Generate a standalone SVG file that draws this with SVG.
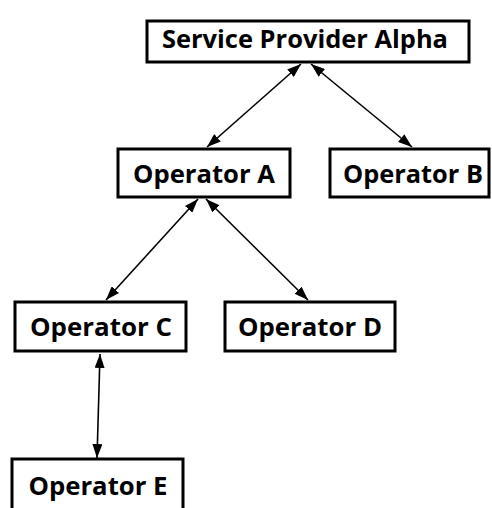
<svg xmlns="http://www.w3.org/2000/svg" width="492" height="508" viewBox="0 0 492 508">
<style>
.box{fill:#fff;stroke:#000;stroke-width:3}
.lbl{font-family:"Open Sans","Noto Sans","Liberation Sans",sans-serif;font-weight:bold;font-size:25.5px;fill:#000;text-anchor:middle}
.conn{stroke:#000;stroke-width:1.6;fill:none;marker-start:url(#ah);marker-end:url(#ah)}
</style>
<defs>
<marker id="ah" viewBox="0 0 14 10" refX="14" refY="5" markerWidth="14" markerHeight="10" markerUnits="userSpaceOnUse" orient="auto-start-reverse">
<path d="M0,0 L14,5 L0,10 z" fill="#000"/>
</marker>
</defs>
<rect width="492" height="508" fill="#fff"/>
<g id="connectors">
<line class="conn" x1="301" y1="64" x2="207" y2="147"/>
<line class="conn" x1="311" y1="64" x2="412" y2="147"/>
<line class="conn" x1="198" y1="199" x2="106" y2="300"/>
<line class="conn" x1="206" y1="199" x2="308" y2="300"/>
<line class="conn" x1="100" y1="354" x2="97" y2="458"/>
</g>
<g id="spa">
<rect class="box" x="147" y="21" width="322" height="41"/>
<text class="lbl" x="305" y="48" textLength="286" lengthAdjust="spacingAndGlyphs">Service Provider Alpha</text>
</g>
<g id="opA">
<rect class="box" x="118" y="149" width="172" height="48"/>
<text class="lbl" x="204" y="183" textLength="142" lengthAdjust="spacingAndGlyphs">Operator A</text>
</g>
<g id="opB">
<rect class="box" x="330" y="149" width="159" height="48"/>
<text class="lbl" x="413" y="183" textLength="140" lengthAdjust="spacingAndGlyphs">Operator B</text>
</g>
<g id="opC">
<rect class="box" x="15" y="302" width="171" height="49"/>
<text class="lbl" x="101" y="336" textLength="142" lengthAdjust="spacingAndGlyphs">Operator C</text>
</g>
<g id="opD">
<rect class="box" x="225" y="302" width="170" height="49"/>
<text class="lbl" x="310" y="336" textLength="144" lengthAdjust="spacingAndGlyphs">Operator D</text>
</g>
<g id="opE">
<rect class="box" x="12" y="459" width="171" height="52"/>
<text class="lbl" x="98" y="495" textLength="139" lengthAdjust="spacingAndGlyphs">Operator E</text>
</g>
</svg>
